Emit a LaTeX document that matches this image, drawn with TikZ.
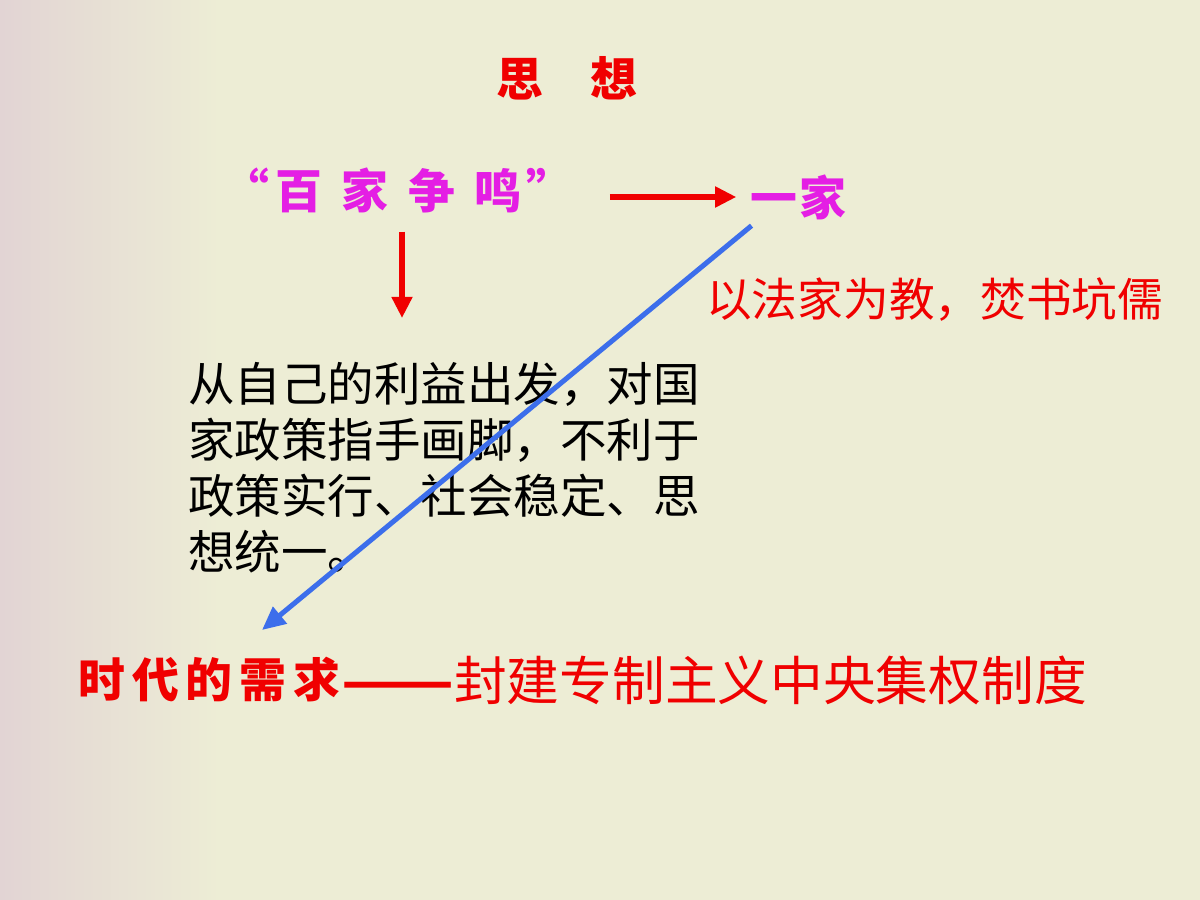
\documentclass[tikz,border=0pt]{standalone}
\usepackage{fontspec}
\usetikzlibrary{arrows.meta}
\newfontfamily\cjk{Noto Sans CJK SC}
\definecolor{bgmain}{RGB}{237,237,213}
\definecolor{bgpink}{RGB}{226,212,212}
\definecolor{txtred}{RGB}{240,0,0}
\definecolor{txtmag}{RGB}{228,30,228}
\definecolor{arrblue}{RGB}{60,110,235}
\tikzset{
  brush/.style={font=\cjk\bfseries\fontsize{40}{44}\selectfont, inner sep=2pt},
  redarr/.style={draw=txtred, line width=4.3pt, -{Triangle[length=18pt,width=17pt]}},
  bluearr/.style={draw=arrblue, line width=4.3pt, -{Triangle[length=20pt,width=18pt]}},
}
\begin{document}
\begin{tikzpicture}[x=0.03cm,y=-0.03cm]
\useasboundingbox (0,0) rectangle (1200,900);
\fill[bgmain] (0,0) rectangle (1200,900);
\shade[left color=bgpink, right color=bgmain] (0,0) rectangle (220,900);
% texts
\node[brush, text=txtred] (title) at (567,78) {思\hspace{1.0em}想};
\node[brush, text=txtmag] (bai) at (398,190) {“\hspace{0.12em}百\hspace{0.42em}家\hspace{0.42em}争\hspace{0.42em}鸣\hspace{0.1em}”};
\node[brush, text=txtmag, anchor=west] (yijia) at (748,197) {一\hspace{0.05em}家};
\node[anchor=west, text=txtred, font=\cjk\fontsize{39}{44}\selectfont, inner sep=0pt] (fenshu) at (706,300) {以法家为教，焚书坑儒};
\node[anchor=north west, align=left, font=\cjk\fontsize{39.7}{47.8}\selectfont, inner sep=0pt] (para) at (188,362)
  {从自己的利益出发，对国\\家政策指手画脚，不利于\\政策实行、社会稳定、思\\想统一。};
\node[brush, text=txtred, anchor=west, inner sep=0pt] (shidai) at (78,680) {时\hspace{0.15em}代\hspace{0.15em}的\hspace{0.15em}需\hspace{0.15em}求};
\node[anchor=west, text=txtred, font=\cjk\fontsize{45}{50}\selectfont, inner sep=0pt] (feng) at (shidai.east) {\scalebox{1.25}[1]{\bfseries ——}封建专制主义中央集权制度};
% connectors
\draw[redarr, shorten <=29pt, shorten >=10pt] (bai.east |- yijia.west) -- (yijia.west);
\draw[redarr, shorten <=14pt] (bai.south -| 402,0) -- (402,318) coordinate (downend);
\coordinate (bend) at (262,630);
\draw[bluearr] ([xshift=3pt,yshift=-3pt]yijia.south west) -- (bend);
\end{tikzpicture}
\end{document}
